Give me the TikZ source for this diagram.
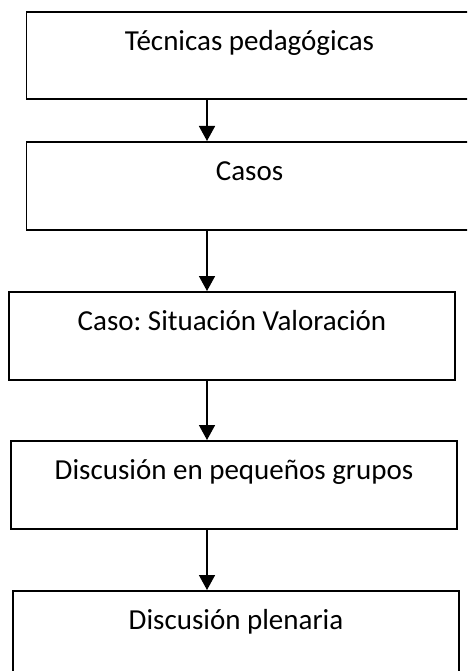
\documentclass[tikz,border=0pt]{standalone}
\usepackage{fontspec}
\setmainfont{Carlito}
\usetikzlibrary{arrows.meta}
\frenchspacing
\begin{document}
\begin{tikzpicture}[x=1pt,y=1pt,
  box/.style={draw=black, line width=1.6pt, rectangle, inner sep=0pt,
    anchor=north, minimum width=446pt, text height=39pt, text depth=49pt,
    font=\fontsize{29}{35}\selectfont},
  arr/.style={line width=1.6pt, -{Triangle[length=15pt,width=16pt]}}]
\useasboundingbox (0,0) rectangle (467,-671);
\clip (0,0) rectangle (467,-671);
\fill[white] (0,0) rectangle (467,-671);
\coordinate (ax) at (207,0);
\node[box, text depth=48pt] (b1) at (249.5,-11) {Técnicas pedagógicas};
\node[box] (b2) at (249.5,-141) {Casos};
\node[box] (b3) at (232,-291) {Caso: Situación Valoración};
\node[box] (b4) at (234,-440) {Discusión en pequeños grupos};
\node[box] (b5) at (236,-590) {Discusión plenaria};
\draw[arr] (b1.south -| ax) -- (b2.north -| ax);
\draw[arr] (b2.south -| ax) -- (b3.north -| ax);
\draw[arr] (b3.south -| ax) -- (b4.north -| ax);
\draw[arr] (b4.south -| ax) -- (b5.north -| ax);
\end{tikzpicture}
\end{document}
